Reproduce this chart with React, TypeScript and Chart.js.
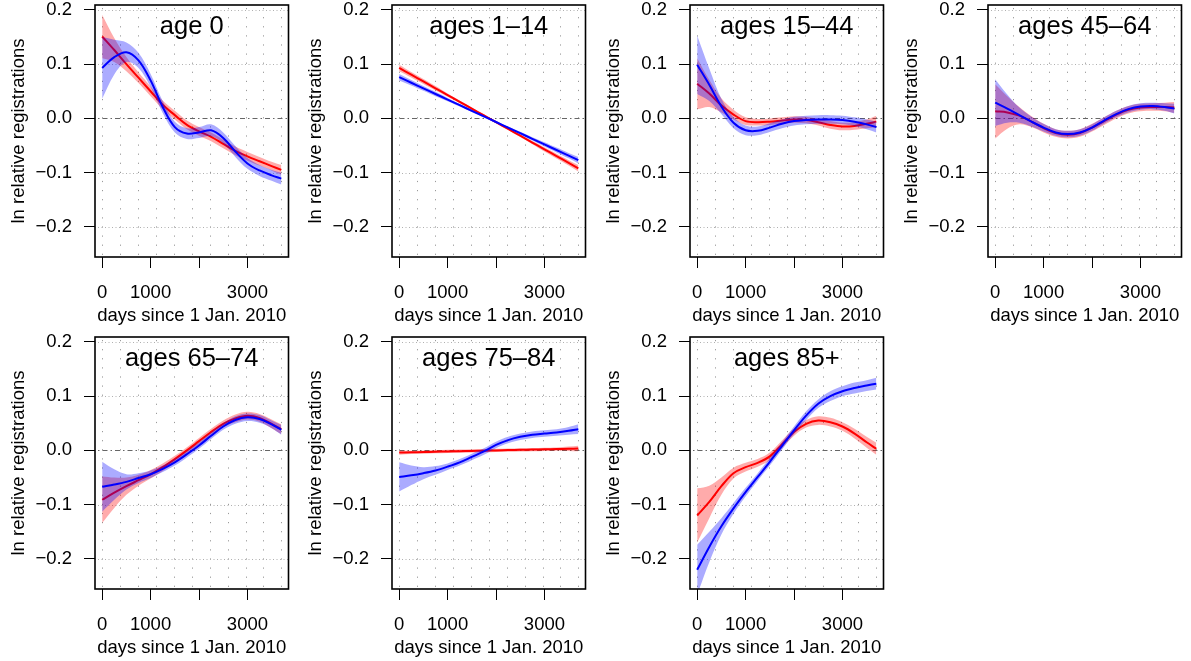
import React, { useEffect, useRef } from "react";
import { Chart, registerables } from "chart.js";

Chart.register(...registerables);

// ---- shared axis values ----
const days = [0, 250, 500, 750, 1000, 1250, 1500, 1750, 2000, 2250, 2500, 2750, 3000, 3250, 3500, 3700];
const xTickValues = [0, 1000, 2000, 3000];
const xTickLabels = ["0", "1000", "", "3000"];
const yTickValues = [-0.2, -0.1, 0, 0.1, 0.2];
const yTickLabels = ["\u22120.2", "\u22120.1", "0.0", "0.1", "0.2"];
const xGridValues = [0, 370, 740, 1110, 1480, 1850, 2220, 2590, 2960, 3330, 3700];
const yGridValues = [-0.2, -0.1, 0.1, 0.2];
const zeroLineValue = 0;
const xMin = -148;
const xMax = 3848;
const yMin = -0.2555;
const yMax = 0.209;

// ---- age 0 ----
const age0Red = [0.151, 0.126, 0.1, 0.075, 0.05, 0.025, 0.006, -0.012, -0.024, -0.034, -0.047, -0.06, -0.07, -0.079, -0.088, -0.095];
const age0RedBand = [0.04, 0.022, 0.013, 0.01, 0.009, 0.008, 0.008, 0.008, 0.008, 0.008, 0.008, 0.008, 0.008, 0.008, 0.008, 0.009];
const age0Blue = [0.093, 0.113, 0.122, 0.107, 0.07, 0.021, -0.016, -0.028, -0.026, -0.022, -0.036, -0.061, -0.083, -0.096, -0.105, -0.111];
const age0BlueBand = [0.057, 0.032, 0.018, 0.014, 0.012, 0.011, 0.01, 0.01, 0.01, 0.011, 0.01, 0.01, 0.01, 0.01, 0.01, 0.011];

// ---- ages 1-14 ----
const age1Red = [0.093, 0.0805, 0.068, 0.0555, 0.043, 0.0305, 0.018, 0.0055, -0.007, -0.0195, -0.032, -0.0445, -0.057, -0.0695, -0.082, -0.092];
const age1RedBand = [0.006, 0.005, 0.0045, 0.004, 0.003, 0.0025, 0.002, 0.002, 0.002, 0.002, 0.0025, 0.003, 0.004, 0.0045, 0.005, 0.006];
const age1Blue = [0.076, 0.0657, 0.0553, 0.045, 0.0347, 0.0243, 0.014, 0.0037, -0.0067, -0.017, -0.0273, -0.0377, -0.048, -0.0583, -0.0687, -0.077];
const age1BlueBand = [0.006, 0.005, 0.0045, 0.004, 0.003, 0.0025, 0.002, 0.002, 0.002, 0.002, 0.0025, 0.003, 0.004, 0.0045, 0.005, 0.006];

// ---- ages 15-44 ----
const age15Red = [0.064, 0.046, 0.024, 0.007, -0.005, -0.007, -0.006, -0.004, -0.002, -0.003, -0.007, -0.012, -0.015, -0.014, -0.01, -0.006];
const age15RedBand = [0.047, 0.025, 0.013, 0.009, 0.007, 0.006, 0.006, 0.006, 0.006, 0.006, 0.006, 0.007, 0.007, 0.007, 0.008, 0.011];
const age15Blue = [0.099, 0.062, 0.022, -0.008, -0.022, -0.023, -0.017, -0.01, -0.005, -0.003, -0.002, -0.002, -0.003, -0.006, -0.011, -0.016];
const age15BlueBand = [0.054, 0.03, 0.014, 0.01, 0.009, 0.008, 0.008, 0.008, 0.008, 0.008, 0.008, 0.008, 0.008, 0.008, 0.009, 0.01];

// ---- ages 45-64 ----
const age45Red = [0.013, 0.011, 0.005, -0.006, -0.018, -0.027, -0.03, -0.027, -0.017, -0.005, 0.007, 0.016, 0.02, 0.021, 0.021, 0.02];
const age45RedBand = [0.05, 0.03, 0.016, 0.01, 0.008, 0.007, 0.007, 0.007, 0.007, 0.007, 0.007, 0.007, 0.007, 0.007, 0.008, 0.01];
const age45Blue = [0.029, 0.018, 0.006, -0.006, -0.017, -0.026, -0.029, -0.026, -0.017, -0.004, 0.008, 0.017, 0.022, 0.023, 0.021, 0.018];
const age45BlueBand = [0.043, 0.026, 0.014, 0.009, 0.007, 0.006, 0.006, 0.006, 0.006, 0.006, 0.006, 0.006, 0.006, 0.006, 0.007, 0.009];

// ---- ages 65-74 ----
const age65Red = [-0.091, -0.078, -0.066, -0.055, -0.044, -0.031, -0.016, 0.0, 0.017, 0.034, 0.049, 0.059, 0.064, 0.06, 0.049, 0.039];
const age65RedBand = [0.043, 0.028, 0.016, 0.01, 0.008, 0.007, 0.006, 0.006, 0.006, 0.006, 0.006, 0.007, 0.007, 0.007, 0.008, 0.009];
const age65Blue = [-0.067, -0.063, -0.058, -0.051, -0.044, -0.034, -0.022, -0.007, 0.009, 0.027, 0.044, 0.056, 0.061, 0.058, 0.048, 0.038];
const age65BlueBand = [0.046, 0.028, 0.014, 0.009, 0.007, 0.006, 0.006, 0.006, 0.006, 0.006, 0.006, 0.007, 0.007, 0.007, 0.007, 0.009];

// ---- ages 75-84 ----
const age75Red = [-0.004, -0.0035, -0.003, -0.0025, -0.002, -0.0015, -0.001, -0.0005, 0.0, 0.0005, 0.001, 0.0015, 0.002, 0.0025, 0.003, 0.0034];
const age75RedBand = [0.004, 0.003, 0.003, 0.003, 0.003, 0.003, 0.003, 0.003, 0.003, 0.003, 0.003, 0.003, 0.003, 0.003, 0.004, 0.005];
const age75Blue = [-0.049, -0.046, -0.042, -0.037, -0.03, -0.022, -0.012, -0.002, 0.01, 0.019, 0.025, 0.029, 0.031, 0.033, 0.036, 0.039];
const age75BlueBand = [0.027, 0.018, 0.011, 0.008, 0.006, 0.006, 0.006, 0.006, 0.006, 0.006, 0.006, 0.006, 0.006, 0.006, 0.007, 0.009];

// ---- ages 85+ ----
const age85Red = [-0.12, -0.095, -0.066, -0.042, -0.031, -0.023, -0.011, 0.011, 0.034, 0.049, 0.055, 0.052, 0.044, 0.031, 0.015, 0.003];
const age85RedBand = [0.05, 0.03, 0.016, 0.01, 0.008, 0.007, 0.007, 0.007, 0.007, 0.007, 0.008, 0.008, 0.008, 0.009, 0.01, 0.011];
const age85Blue = [-0.22, -0.178, -0.14, -0.107, -0.077, -0.049, -0.021, 0.008, 0.037, 0.064, 0.086, 0.1, 0.109, 0.115, 0.1195, 0.123];
const age85BlueBand = [0.046, 0.028, 0.015, 0.01, 0.008, 0.007, 0.007, 0.007, 0.007, 0.008, 0.008, 0.009, 0.009, 0.01, 0.01, 0.011];

const panelTitles = ["age 0", "ages 1\u201314", "ages 15\u201344", "ages 45\u201364", "ages 65\u201374", "ages 75\u201384", "ages 85+"];
const panelReds = [age0Red, age1Red, age15Red, age45Red, age65Red, age75Red, age85Red];
const panelRedBands = [age0RedBand, age1RedBand, age15RedBand, age45RedBand, age65RedBand, age75RedBand, age85RedBand];
const panelBlues = [age0Blue, age1Blue, age15Blue, age45Blue, age65Blue, age75Blue, age85Blue];
const panelBlueBands = [age0BlueBand, age1BlueBand, age15BlueBand, age45BlueBand, age65BlueBand, age75BlueBand, age85BlueBand];

const cellLefts = [0, 297, 595, 893];
const cellTops = [0, 332];
const CW = 298;
const CH = 329;
const FONT = '"Liberation Sans", Arial, Helvetica, sans-serif';

const decorPlugin = {
  id: "decor",
  beforeDatasetsDraw(chart: any) {
    const { ctx, chartArea } = chart;
    const { left, right, top, bottom } = chartArea;
    const xs = chart.scales.x;
    const ys = chart.scales.y;
    ctx.save();
    ctx.beginPath();
    ctx.rect(left, top, right - left, bottom - top);
    ctx.clip();
    ctx.lineWidth = 1;
    // vertical dotted grid
    ctx.strokeStyle = "#9a9a9a";
    ctx.setLineDash([1.2, 7.9]);
    for (const v of xGridValues) {
      const x = Math.round(xs.getPixelForValue(v)) + 0.5;
      ctx.beginPath();
      ctx.lineDashOffset = -3;
      ctx.moveTo(x, top);
      ctx.lineTo(x, bottom);
      ctx.stroke();
    }
    // horizontal dotted grid
    ctx.strokeStyle = "#b0b0b0";
    ctx.setLineDash([1, 2.5]);
    for (const v of yGridValues) {
      const y = Math.round(ys.getPixelForValue(v)) + 0.5;
      ctx.beginPath();
      ctx.moveTo(left, y);
      ctx.lineTo(right, y);
      ctx.stroke();
    }
    // zero dash-dot line
    ctx.strokeStyle = "#666666";
    ctx.setLineDash([1.5, 3, 5, 3]);
    {
      const y = Math.round(ys.getPixelForValue(zeroLineValue)) + 0.5;
      ctx.beginPath();
      ctx.moveTo(left, y);
      ctx.lineTo(right, y);
      ctx.stroke();
    }
    ctx.restore();
  },
  afterDraw(chart: any, _args: any, opts: any) {
    const { ctx, chartArea } = chart;
    const { left, right, top, bottom } = chartArea;
    ctx.save();
    ctx.setLineDash([]);
    ctx.strokeStyle = "#000";
    ctx.lineWidth = 1.6;
    ctx.strokeRect(left, top, right - left, bottom - top);
    ctx.fillStyle = "#000";
    ctx.font = `25.5px ${FONT}`;
    ctx.textAlign = "center";
    ctx.textBaseline = "alphabetic";
    ctx.fillText(opts.title, (left + right) / 2, top + 29);
    ctx.restore();
  },
};

function Panel(props: { idx: number }) {
  const ref = useRef<HTMLCanvasElement>(null);
  const i = props.idx;
  useEffect(() => {
    const red = panelReds[i];
    const redBand = panelRedBands[i];
    const blue = panelBlues[i];
    const blueBand = panelBlueBands[i];
    const pts = (vals: number[], band?: number[], sign = 0) =>
      days.map((d, k) => ({ x: d, y: vals[k] + (band ? sign * band[k] : 0) }));
    const tension = 0.35;
    const axisFont = { family: FONT, size: 18.5 };
    const chart = new Chart(ref.current as HTMLCanvasElement, {
      type: "line",
      data: {
        datasets: [
          { data: pts(red, redBand, -1), borderWidth: 0, pointRadius: 0, fill: false, order: 10, tension },
          { data: pts(red, redBand, 1), borderWidth: 0, pointRadius: 0, fill: "-1", backgroundColor: "rgba(255,0,0,0.33)", order: 9, tension },
          { data: pts(red), borderColor: "#ff0000", borderWidth: 2, pointRadius: 0, fill: false, order: 8, tension },
          { data: pts(blue, blueBand, -1), borderWidth: 0, pointRadius: 0, fill: false, order: 7, tension },
          { data: pts(blue, blueBand, 1), borderWidth: 0, pointRadius: 0, fill: "-1", backgroundColor: "rgba(0,0,255,0.33)", order: 6, tension },
          { data: pts(blue), borderColor: "#0000ff", borderWidth: 2, pointRadius: 0, fill: false, order: 5, tension },
        ] as any,
      },
      options: {
        responsive: false,
        animation: false,
        devicePixelRatio: 1,
        layout: { padding: { left: 0, right: 9.5, top: 5, bottom: 0 } },
        plugins: {
          legend: { display: false },
          tooltip: { enabled: false },
          decor: { title: panelTitles[i] },
        } as any,
        scales: {
          x: {
            type: "linear",
            min: xMin,
            max: xMax,
            afterBuildTicks: (s: any) => {
              s.ticks = xTickValues.map((v) => ({ value: v }));
            },
            afterFit: (s: any) => {
              s.height = CH - 257;
              s.paddingLeft = 0;
              s.paddingRight = 0;
            },
            ticks: {
              autoSkip: false,
              maxRotation: 0,
              minRotation: 0,
              padding: 14,
              color: "#000",
              font: axisFont,
              callback: (_v: any, index: number) => xTickLabels[index],
            },
            grid: { display: true, drawOnChartArea: false, drawTicks: true, tickLength: 11, tickColor: "#000", tickWidth: 1 },
            border: { display: false },
            title: { display: true, text: "days since 1 Jan. 2010", color: "#000", font: axisFont, padding: { top: 0, bottom: 1.5 } },
          },
          y: {
            type: "linear",
            min: yMin,
            max: yMax,
            afterBuildTicks: (s: any) => {
              s.ticks = yTickValues.map((v) => ({ value: v }));
            },
            afterFit: (s: any) => {
              s.width = 95;
              s.paddingTop = 0;
              s.paddingBottom = 0;
            },
            ticks: {
              autoSkip: false,
              padding: 12,
              color: "#000",
              font: axisFont,
              callback: (_v: any, index: number) => yTickLabels[index],
            },
            grid: { display: true, drawOnChartArea: false, drawTicks: true, tickLength: 11, tickColor: "#000", tickWidth: 1 },
            border: { display: false },
            title: { display: true, text: "ln relative registrations", color: "#000", font: axisFont, padding: { top: 8, bottom: 0 } },
          },
        },
      } as any,
      plugins: [decorPlugin as any],
    });
    return () => chart.destroy();
  }, [i]);
  const col = i % 4;
  const row = Math.floor(i / 4);
  return (
    <canvas
      ref={ref}
      width={CW}
      height={CH}
      style={{ position: "absolute", left: cellLefts[col], top: cellTops[row], width: CW, height: CH, display: "block" }}
    />
  );
}

export default function App() {
  return (
    <div style={{ position: "absolute", left: 0, top: 0, width: 1191, height: 661, background: "#fff", overflow: "hidden" }}>
      {panelTitles.map((_t, i) => (
        <Panel key={i} idx={i} />
      ))}
    </div>
  );
}
